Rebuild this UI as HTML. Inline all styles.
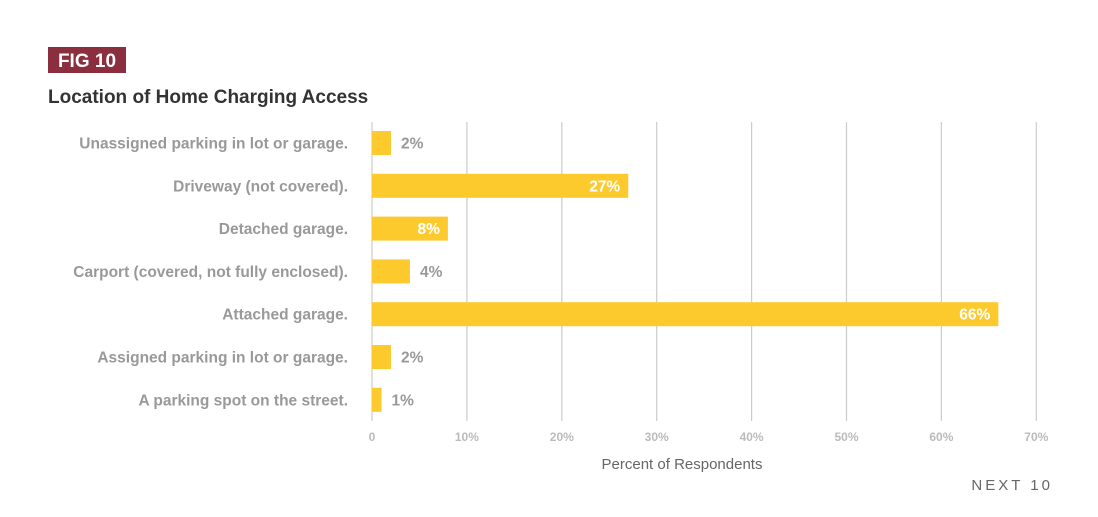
<!DOCTYPE html>
<html><head><meta charset="utf-8"><style>
body{margin:0;background:#fff;font-family:"Liberation Sans",sans-serif;}
svg{display:block}
</style></head><body>
<svg width="1098" height="517" viewBox="0 0 1098 517">
<rect x="48" y="47" width="78" height="26" fill="#8b2e3e"/>
<text x="87" y="67" text-anchor="middle" fill="#fff" font-weight="bold" font-size="19">FIG 10</text>
<text x="48" y="103" fill="#333" font-weight="bold" font-size="19">Location of Home Charging Access</text>
<g id="grid"></g><g id="bars"></g><g id="labels"></g>
<text x="682" y="469" text-anchor="middle" fill="#666" font-size="15">Percent of Respondents</text>
<text x="1053" y="490" text-anchor="end" fill="#666" font-size="15" letter-spacing="3">NEXT 10</text>
</svg>
<script>
const categories=["Unassigned parking in lot or garage.","Driveway (not covered).","Detached garage.","Carport (covered, not fully enclosed).","Attached garage.","Assigned parking in lot or garage.","A parking spot on the street."];
const values=[2,27,8,4,66,2,1];
const ticks=[0,10,20,30,40,50,60,70];
const tickLabels=["0","10%","20%","30%","40%","50%","60%","70%"];
const NS="http://www.w3.org/2000/svg";
const x=v=>372+v*9.49;
const y=i=>143+i*42.8;
function mk(t,a,p){const e=document.createElementNS(NS,t);for(const k in a)e.setAttribute(k,a[k]);document.getElementById(p).appendChild(e);return e;}
ticks.forEach((t,i)=>{
 const l=mk("line",{x1:x(t),x2:x(t),y1:122,y2:421,stroke:"#ccc","stroke-width":1.2},"grid");
 
 
 const tx=mk("text",{x:x(t),y:441,"text-anchor":"middle",fill:"#bbb","font-size":12,"font-weight":"bold"},"grid");
 tx.textContent=tickLabels[i];
 
 
});
categories.forEach((c,i)=>{
 const r=mk("rect",{x:x(0),y:y(i)-12,width:x(values[i])-x(0),height:24,fill:"#fdca2e"},"bars");
 
 
 const lb=mk("text",{x:348,y:y(i)+5.5,"text-anchor":"end",fill:"#999","font-size":15.5,"font-weight":"bold"},"labels");
 lb.textContent=c;
 
 
 const inside=values[i]>=8;
 const vl=mk("text",{x:inside?x(values[i])-8:x(values[i])+10,y:y(i)+5.5,"text-anchor":inside?"end":"start",fill:inside?"#fff":"#999","font-size":15.5,"font-weight":"bold"},"labels");
 vl.textContent=values[i]+"%";
 
 
});
</script>
</body></html>
